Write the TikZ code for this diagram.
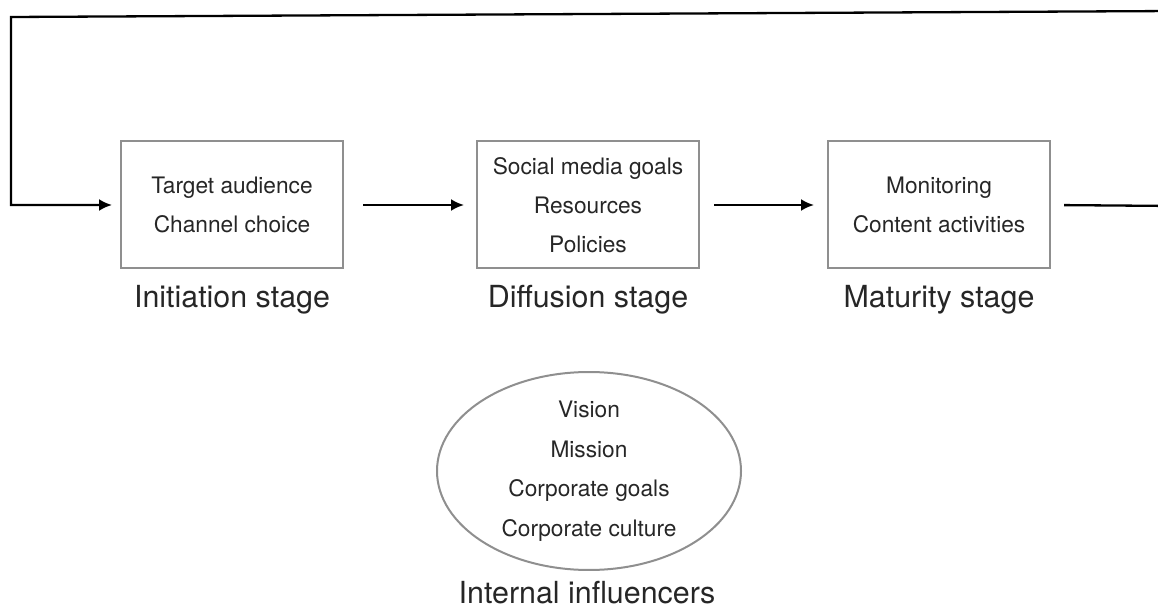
\documentclass[tikz,border=0pt]{standalone}
\usepackage{fontspec}
\setmainfont{TeX Gyre Heros}
\usepackage{tikz}
\usepackage{xcolor}
\usetikzlibrary{shapes.geometric, positioning, arrows, arrows.meta}
\definecolor{boxgray}{HTML}{8F8F8F}
\definecolor{inkgray}{HTML}{262626}

\begin{document}
\begin{tikzpicture}[x=1pt, y=-1pt,
  stagebox/.style={draw=boxgray, line width=2pt, minimum width=222pt, minimum height=127pt, align=center, text=inkgray, font=\fontsize{22.7}{39}\selectfont},
  influence/.style={draw=boxgray, line width=2pt, ellipse, minimum width=304pt, minimum height=188pt, inner sep=0pt, align=center, text=inkgray, font=\fontsize{22.7}{39.5}\selectfont},
  stagelabel/.style={anchor=base, inner sep=0pt, text=inkgray, font=\fontsize{30.4}{36}\selectfont},
  flow/.style={line width=2.3pt, black, -{Latex[length=13pt, width=12pt]}}]
\useasboundingbox (0,0) rectangle (1158,609);
\clip (0,0) rectangle (1158,609);
% stages
\node[stagebox] (init) at (232,205) {Target audience\\Channel choice};
\node[stagebox] (diff) at (588,205) {Social media goals\\Resources\\Policies};
\node[stagebox] (matu) at (939,205) {Monitoring\\Content activities};
\node[stagelabel] (initlab) at (232,308) {Initiation stage};
\node[stagelabel] (difflab) at (588,308) {Diffusion stage};
\node[stagelabel] (matulab) at (939,308) {Maturity stage};
% influencers
\node[influence] (infl) at (589,471) {Vision\\Mission\\Corporate goals\\Corporate culture};
\node[stagelabel] (infllab) at (587,603) {Internal influencers};
% arrows
\draw[flow, shorten <=19pt, shorten >=12pt] (init.east) -- (diff.west);
\draw[flow, shorten <=14pt, shorten >=13pt] (diff.east) -- (matu.west);
% feedback loop, right side runs off the page
\coordinate (r1) at (1175,206);
\coordinate (r2) at (1175,11);
\coordinate (l1) at (11,17);
\coordinate (l2) at (11,205);
\draw[flow, shorten <=13pt, shorten >=8pt] (matu.east) -- (r1) -- (r2) -- (l1) -- (l2) -- (init.west);
\end{tikzpicture}
\end{document}
